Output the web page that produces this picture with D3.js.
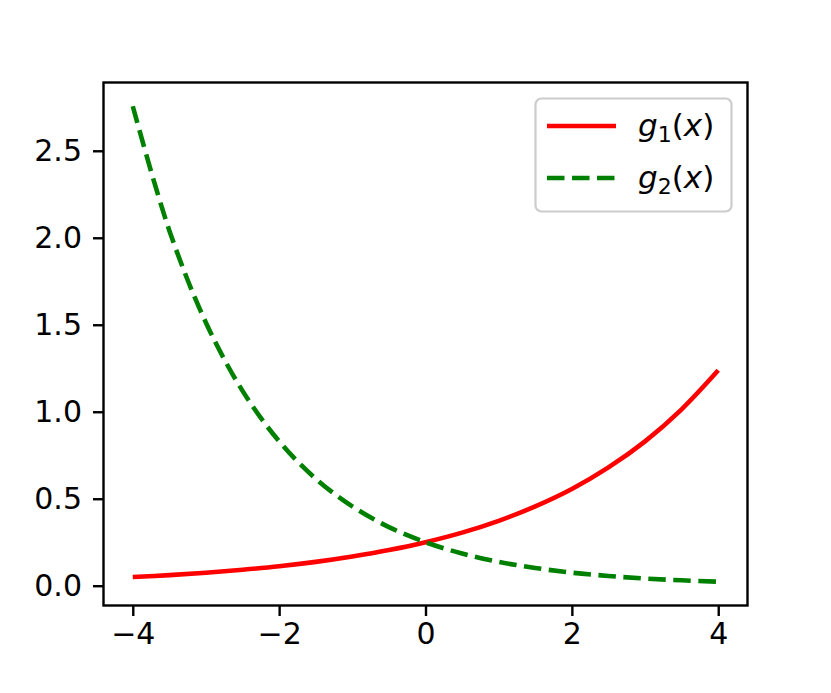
<!DOCTYPE html>
<html>
<head>
<meta charset="utf-8">
<script src="https://cdn.jsdelivr.net/npm/d3@7"></script>
<style>
  body { margin: 0; background: #fff; }
  text { font-family: "DejaVu Sans", sans-serif; }
</style>
</head>
<body>
<svg id="chart" width="831" height="693"></svg>
<script>
// values
var xs = [-4, -3.5, -3, -2.5, -2, -1.5, -1, -0.5, 0, 0.5, 1, 1.5, 2, 2.5, 3, 3.5, 4];
var g1 = [0.050, 0.061, 0.075, 0.092, 0.112, 0.137, 0.168, 0.205, 0.250, 0.305, 0.373, 0.456, 0.556, 0.680, 0.830, 1.014, 1.238];
var g2 = [2.756, 2.041, 1.512, 1.120, 0.830, 0.615, 0.456, 0.337, 0.250, 0.185, 0.137, 0.102, 0.075, 0.056, 0.041, 0.031, 0.023];
var xTicks = [-4, -2, 0, 2, 4];
var yTicks = [0.0, 0.5, 1.0, 1.5, 2.0, 2.5];

var plotL = 103.5, plotR = 747.5, plotT = 82.5, plotB = 605.5;
var fs = 30;

var svg = d3.select("#chart");

var x = d3.scaleLinear().domain([-4.4, 4.4]).range([plotL, plotR]);
var y = d3.scaleLinear().domain([-0.1137, 2.8925]).range([plotB, plotT]);

// x axis
var xAxis = svg.append("g")
  .attr("transform", "translate(0," + plotB + ")")
  .call(d3.axisBottom(x).tickValues(xTicks).tickSize(10.5).tickPadding(7)
    .tickFormat(function(d) { return d < 0 ? "\u2212" + Math.abs(d) : d; }));
xAxis.select(".domain").remove();
xAxis.selectAll("line").attr("stroke", "#000").attr("stroke-width", 2.4);
xAxis.selectAll("text").attr("font-size", fs).attr("fill", "#000")
  .attr("font-family", "DejaVu Sans");

// y axis
var yAxis = svg.append("g")
  .attr("transform", "translate(" + plotL + ",0)")
  .call(d3.axisLeft(y).tickValues(yTicks).tickSize(10.5).tickPadding(11)
    .tickFormat(d3.format(".1f")));
yAxis.select(".domain").remove();
yAxis.selectAll("line").attr("stroke", "#000").attr("stroke-width", 2.4);
yAxis.selectAll("text").attr("font-size", fs).attr("fill", "#000")
  .attr("font-family", "DejaVu Sans");

// lines
var line = d3.line()
  .x(function(d, i) { return x(xs[i]); })
  .y(function(d) { return y(d); })
  .curve(d3.curveCatmullRom);

svg.append("path")
  .datum(g1)
  .attr("d", line)
  .attr("fill", "none")
  .attr("stroke", "#ff0000")
  .attr("stroke-width", 4.6);

svg.append("path")
  .datum(g2)
  .attr("d", line)
  .attr("fill", "none")
  .attr("stroke", "#008000")
  .attr("stroke-width", 4.6)
  .attr("stroke-dasharray", "17.5,7.5");

// frame
svg.append("rect")
  .attr("x", plotL).attr("y", plotT)
  .attr("width", plotR - plotL).attr("height", plotB - plotT)
  .attr("fill", "none").attr("stroke", "#000").attr("stroke-width", 2.4);

// legend
var leg = svg.append("g");
leg.append("rect")
  .attr("x", 535.5).attr("y", 98.5).attr("width", 196).attr("height", 113)
  .attr("rx", 6).attr("ry", 6)
  .attr("fill", "#fff").attr("fill-opacity", 0.8)
  .attr("stroke", "#cccccc").attr("stroke-width", 2.2);

var entries = [
  { sub: "1", color: "#ff0000", dash: null, y: 126 },
  { sub: "2", color: "#008000", dash: "17.5,7.5", y: 178 }
];
entries.forEach(function(e) {
  leg.append("line")
    .attr("x1", 547).attr("x2", 616).attr("y1", e.y).attr("y2", e.y)
    .attr("stroke", e.color).attr("stroke-width", 4.6)
    .attr("stroke-dasharray", e.dash);
  var t = leg.append("text")
    .attr("x", 638).attr("y", e.y + 10)
    .attr("font-size", 31).attr("fill", "#000");
  t.append("tspan").attr("font-style", "italic").text("g");
  t.append("tspan").attr("font-size", 22).attr("dy", 6).text(e.sub);
  t.append("tspan").attr("dy", -6).text("(");
  t.append("tspan").attr("font-style", "italic").text("x");
  t.append("tspan").text(")");
});
</script>
</body>
</html>
